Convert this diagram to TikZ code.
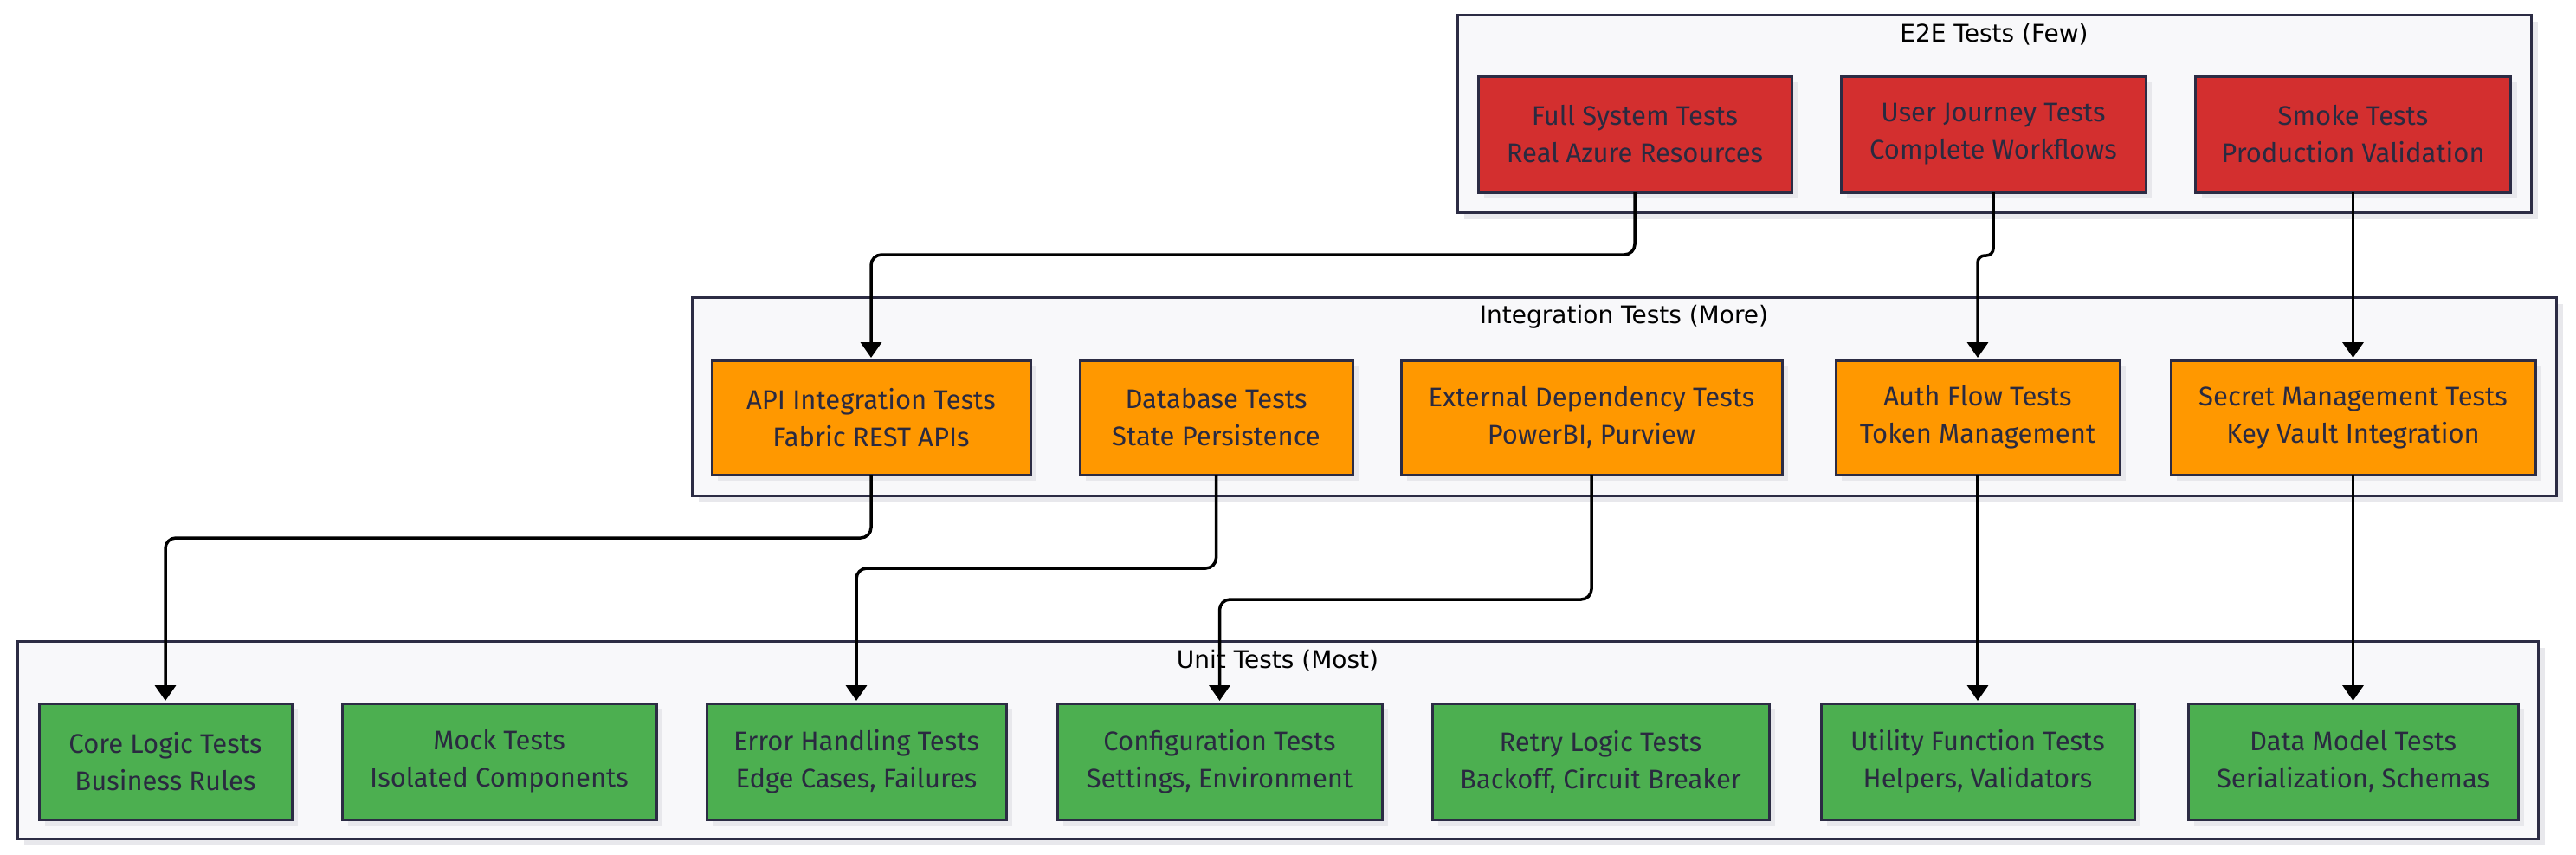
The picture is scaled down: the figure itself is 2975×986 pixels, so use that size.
\documentclass[tikz,border=0pt]{standalone}
\usepackage{fontspec}
\setmainfont{Fira Sans}
\newfontfamily\titlefont{DejaVu Sans}
\usetikzlibrary{arrows.meta,shadows}
\definecolor{bord}{HTML}{2C2C44}
\definecolor{txt}{HTML}{2A2A40}
\definecolor{redf}{HTML}{D32F2F}
\definecolor{orangef}{HTML}{FF9800}
\definecolor{greenf}{HTML}{4CAF50}
\definecolor{clusterf}{HTML}{F8F8FA}
\definecolor{shadc}{HTML}{E8E8EC}
\begin{document}
\begin{tikzpicture}[x=1pt,y=-1pt,
  cluster/.style={draw=bord, line width=3pt, fill=clusterf, inner sep=0pt, outer sep=0pt,
    drop shadow={shadow xshift=8pt, shadow yshift=-8pt, fill=shadc, opacity=1}},
  ctitle/.style={font=\titlefont\fontsize{28}{32}\selectfont, text=black, inner sep=0pt},
  tbox/.style={draw=bord, line width=3pt, inner sep=0pt, outer sep=0pt, align=center,
    font=\fontsize{31}{43}\selectfont, text=txt,
    drop shadow={shadow xshift=7pt, shadow yshift=-7pt, fill=shadc, opacity=1}},
  e2ebox/.style={tbox, fill=redf, minimum height=134pt},
  intbox/.style={tbox, fill=orangef, minimum height=132pt},
  unitbox/.style={tbox, fill=greenf, minimum height=134pt},
  conn/.style={line width=3.5pt, draw=black, rounded corners=12pt,
    -{Triangle[width=24pt,length=18pt]}, shorten >=3pt},
]
\useasboundingbox[fill=white] (0,0) rectangle (2975,986);

% clusters
\node[cluster, minimum width=1240pt, minimum height=228pt] (e2e) at (2303,131) {};
\node[cluster, minimum width=2153pt, minimum height=229pt] (int) at (1875.5,457.5) {};
\node[cluster, minimum width=2911pt, minimum height=228pt] (unit) at (1475.5,854) {};

\node[ctitle] (e2et) at (2303,40) {E2E Tests (Few)};
\node[ctitle] (intt) at (1875.5,366) {Integration Tests (More)};
\node[ctitle] (unitt) at (1475.5,763) {Unit Tests (Most)};

% E2E row
\node[e2ebox, minimum width=362pt] (fs) at (1888,155) {Full System Tests\\Real Azure Resources};
\node[e2ebox, minimum width=352pt] (uj) at (2302,155) {User Journey Tests\\Complete Workflows};
\node[e2ebox, minimum width=364pt] (sm) at (2717.5,155) {Smoke Tests\\Production Validation};

% Integration row
\node[intbox, minimum width=368pt] (api) at (1006,482) {API Integration Tests\\Fabric REST APIs};
\node[intbox, minimum width=315pt] (db) at (1404.5,482) {Database Tests\\State Persistence};
\node[intbox, minimum width=440pt] (ext) at (1838,482) {External Dependency Tests\\PowerBI, Purview};
\node[intbox, minimum width=328pt] (auth) at (2284,482) {Auth Flow Tests\\Token Management};
\node[intbox, minimum width=421pt] (sec) at (2717.5,482) {Secret Management Tests\\Key Vault Integration};

% Unit row
\node[unitbox, minimum width=292pt] (core) at (191,879) {Core Logic Tests\\Business Rules};
\node[unitbox, minimum width=363pt] (mock) at (576.5,879) {Mock Tests\\Isolated Components};
\node[unitbox, minimum width=346pt] (err) at (989,879) {Error Handling Tests\\Edge Cases, Failures};
\node[unitbox, minimum width=375pt] (cfg) at (1408.5,879) {Configuration Tests\\Settings, Environment};
\node[unitbox, minimum width=389pt] (retry) at (1848.5,879) {Retry Logic Tests\\Backoff, Circuit Breaker};
\node[unitbox, minimum width=362pt] (util) at (2284,879) {Utility Function Tests\\Helpers, Validators};
\node[unitbox, minimum width=381pt] (dm) at (2717.5,879) {Data Model Tests\\Serialization, Schemas};

% connectors
\draw[conn] (fs.south) -- ++(0,72) -| (api.north);
\draw[conn, rounded corners=8pt] (uj.south) -- ++(0,73) -| (auth.north);
\draw[conn] (sm.south) -- (sec.north);
\draw[conn] (api.south) -- ++(0,73) -| (core.north);
\draw[conn] (db.south) -- ++(0,108) -| (err.north);
\draw[conn] (ext.south) -- ++(0,144) -| (cfg.north);
\draw[conn] (auth.south) -- (util.north);
\draw[conn] (sec.south) -- (dm.north);
\end{tikzpicture}
\end{document}
